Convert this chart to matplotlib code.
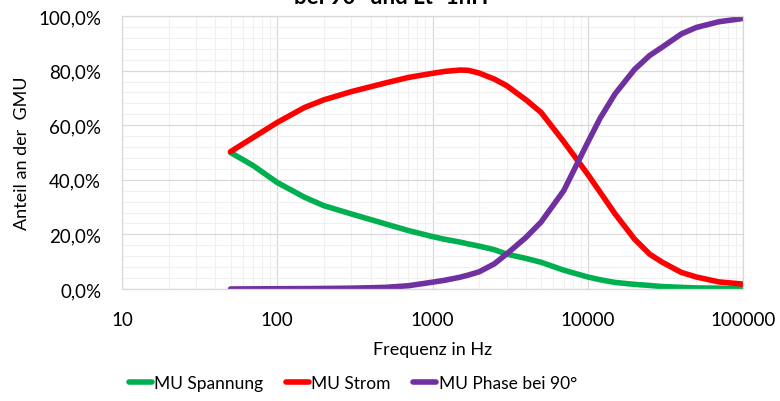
import matplotlib
matplotlib.use("Agg")
import matplotlib.pyplot as plt
from matplotlib.ticker import FixedLocator, MultipleLocator, FuncFormatter, LogLocator, NullFormatter

plt.rcParams['font.family'] = ['Lato', 'DejaVu Sans']

# Frequency sweep (Hz) and share of each component in the total measurement uncertainty (%)
freq = [50, 70, 100, 150, 200, 300, 500, 700, 1000, 1200, 1500, 1700, 2000, 2500, 3000, 4000,
        5000, 7000, 10000, 12000, 15000, 20000, 25000, 30000, 40000, 50000, 70000, 100000]
mu_spannung = [50, 45.2, 39, 33.6, 30.5, 27.5, 23.8, 21.4, 19.2, 18.2, 17.2, 16.5, 15.7, 14.4,
               12.8, 11.2, 9.8, 6.9, 4.4, 3.4, 2.4, 1.7, 1.3, 0.9, 0.6, 0.4, 0.3, 0.2]
mu_strom = [50.3, 55.5, 61, 66.5, 69.3, 72.3, 75.5, 77.5, 79, 79.7, 80.2, 80.1, 79.1, 76.9,
            74.5, 69.3, 64.7, 54, 42, 35.5, 27.5, 18.3, 12.8, 9.9, 6.1, 4.4, 2.6, 1.8]
mu_phase = [0, 0.05, 0.1, 0.15, 0.2, 0.3, 0.6, 1.2, 2.5, 3.2, 4.3, 5.1, 6.3, 9.2,
            12.8, 18.9, 24.5, 36, 53.7, 62.5, 71.5, 80.4, 85.5, 88.5, 93.4, 95.8, 97.9, 99.1]

series_names = ["MU Spannung", "MU Strom", "MU Phase bei 90°"]
series_colors = ["#00B050", "#FF0000", "#7030A0"]
x_ticks = [10, 100, 1000, 10000, 100000]

fig = plt.figure(figsize=(7.8, 4.02), dpi=100)
ax = fig.add_axes([122 / 780, 1 - 290 / 402, (743 - 122) / 780, (290 - 17) / 402])

for vals, name, col in zip([mu_spannung, mu_strom, mu_phase], series_names, series_colors):
    ax.plot(freq, vals, color=col, lw=4.0, label=name,
            solid_capstyle='round', solid_joinstyle='round')

ax.set_xscale('log')
ax.set_xlim(10, 100000)
ax.set_ylim(0, 100)
ax.xaxis.set_major_locator(FixedLocator(x_ticks))
ax.xaxis.set_major_formatter(FuncFormatter(lambda v, p: f"{int(round(v))}"))
ax.xaxis.set_minor_locator(LogLocator(base=10, subs=range(2, 10)))
ax.xaxis.set_minor_formatter(NullFormatter())
ax.yaxis.set_major_locator(MultipleLocator(20))
ax.yaxis.set_minor_locator(MultipleLocator(4))
ax.yaxis.set_major_formatter(FuncFormatter(lambda v, p: f"{v:.1f}".replace('.', ',') + "%"))

ax.grid(which='major', color='#d9d9d9', lw=0.9)
ax.grid(which='minor', color='#f0f0f0', lw=0.8)
ax.set_axisbelow(True)
for s in ax.spines.values():
    s.set_color('#d9d9d9')
    s.set_linewidth(0.9)

ax.tick_params(which='both', length=0, labelsize=13.5, colors='#000000')
ax.tick_params(axis='x', pad=16)
ax.tick_params(axis='y', pad=15)

ax.set_xlabel("Frequenz in Hz", fontsize=13, labelpad=9)
ax.set_ylabel("Anteil an der  GMU", fontsize=13, labelpad=6)

fig.text(391 / 780, 1 - 4 / 402, "bei 90° und Lt=1nH", ha='center', va='baseline',
         fontsize=16, fontweight='bold')

fig.legend(loc='center', bbox_to_anchor=(353 / 780, 1 - 384 / 402), ncol=3, frameon=False,
           fontsize=12.5, handlelength=1.3, handletextpad=0.15, columnspacing=1.3)

fig.savefig("out.png", dpi=100)
